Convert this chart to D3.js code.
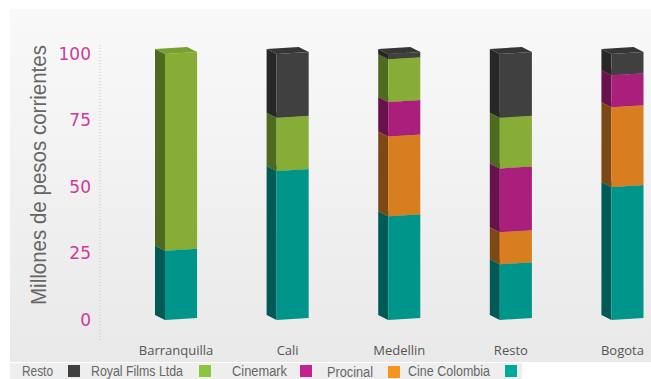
<!DOCTYPE html>
<html><head><meta charset="utf-8">
<script src="https://cdn.jsdelivr.net/npm/d3@7"></script>
<style>html,body{margin:0;padding:0;background:#fff;}svg{display:block;}</style>
</head><body>
<script>
// ---- data ----
const categories = ["Barranquilla", "Cali", "Medellin", "Resto", "Bogota"];
const seriesNames = ["Cine Colombia", "Procinal", "Cinemark", "Royal Films Ltda", "Resto"];
const cineColombia = [26, 56, 39, 21, 50];
const procinal     = [0, 0, 30, 12, 30];
const cinemark     = [0, 0, 13, 24, 12];
const royalFilms   = [74, 20, 16, 19, 0];
const resto        = [0, 24, 2, 24, 8];
const yTicks = [0, 25, 50, 75, 100];
const legendLabels = ["Resto", "Royal Films Ltda", "Cinemark", "Procinal", "Cine Colombia"];

const seriesValues = [cineColombia, procinal, cinemark, royalFilms, resto];
const colors = {
  "Cine Colombia":   {front:"#00958a", side:"#005b54", top:"#00a396"},
  "Procinal":        {front:"#d97e20", side:"#7c4914", top:"#e38c33"},
  "Cinemark":        {front:"#aa1f7b", side:"#69114a", top:"#b62c87"},
  "Royal Films Ltda":{front:"#87ad36", side:"#4e6a1f", top:"#7a9e2f"},
  "Resto":           {front:"#404040", side:"#272727", top:"#363636"}
};

const W = 651, H = 379;
const svg = d3.select("body").append("svg").attr("width", W).attr("height", H);

// background panel
const defs = svg.append("defs");
const g1 = defs.append("linearGradient").attr("id","bg").attr("x1",0).attr("y1",0).attr("x2",0).attr("y2",1);
g1.append("stop").attr("offset","0%").attr("stop-color","#f9f9f9");
g1.append("stop").attr("offset","100%").attr("stop-color","#e9e9e9");
svg.append("rect").attr("x",10).attr("y",9).attr("width",641).attr("height",353).attr("fill","url(#bg)");
svg.append("rect").attr("x",10).attr("y",363).attr("width",512).attr("height",16).attr("fill","#eeeeee");

// scales
const y = d3.scaleLinear().domain([0, 100]).range([318, 52]);
const x = d3.scaleBand().domain(categories).range([155, 643.5]).paddingInner(0.623).paddingOuter(0);

// dotted axis line
svg.append("line").attr("x1",100).attr("x2",100).attr("y1",45).attr("y2",342)
  .attr("stroke","#c4c4c4").attr("stroke-width",1).attr("stroke-dasharray","1,2");

// y axis
const yAxis = svg.append("g").attr("transform","translate(100,2)")
  .call(d3.axisLeft(y).tickValues(yTicks).tickSize(0).tickPadding(9));
yAxis.select(".domain").remove();
yAxis.selectAll("text").attr("fill","#d03a9c").style("font-family","'DejaVu Sans', sans-serif")
  .style("font-size","17px").style("font-weight","normal");

// y title
svg.append("text")
  .attr("transform","translate(46,175) rotate(-90)")
  .attr("text-anchor","middle")
  .attr("fill","#666")
  .style("font-family","'Liberation Sans Narrow', 'Liberation Sans', sans-serif")
  .style("font-size","22px")
  .attr("textLength",260).attr("lengthAdjust","spacingAndGlyphs")
  .text("Millones de pesos corrientes");

// stacked 3D bars
const dx = 10, dy = 5, sk = 2;
const barsG = svg.append("g");
categories.forEach((cat, i) => {
  let cum = 0;
  const xb = x(cat), xf = xb + dx, xr = xb + x.bandwidth();
  seriesNames.forEach((name, s) => {
    const v = seriesValues[s][i];
    if (v <= 0) return;
    const Y0 = y(cum), Y1 = y(cum + v);
    cum += v;
    const c = colors[name];
    const seg = barsG.append("g");
    seg.append("polygon").attr("fill", c.side)
      .attr("points", [[xb, Y1+sk-dy],[xf, Y1+sk],[xf, Y0+sk],[xb, Y0+sk-dy]].map(p=>p.join(",")).join(" "));
    seg.append("polygon").attr("fill", c.front)
      .attr("points", [[xf, Y1+sk],[xr, Y1],[xr, Y0],[xf, Y0+sk]].map(p=>p.join(",")).join(" "));
    seg.append("polygon").attr("fill", c.top)
      .attr("points", [[xb, Y1+sk-dy],[xf, Y1+sk],[xr, Y1],[xr-dx, Y1-dy]].map(p=>p.join(",")).join(" "));
  });
});

// category labels
svg.append("g").selectAll("text").data(categories).join("text")
  .attr("x", d => x(d) + x.bandwidth()/2)
  .attr("y", 355)
  .attr("text-anchor","middle")
  .attr("fill","#555")
  .style("font-family","'Open Sans', sans-serif")
  .style("font-size","13px")
  .text(d => d);

// legend (label followed by swatch, as in reference)
const legendItems = [
  {label: legendLabels[0], tx: 22, tw: 31, sx: 68, color: "#404040", ty: 376, sy: 365},
  {label: legendLabels[1], tx: 91, tw: 92, sx: 199, color: "#8cc63f", ty: 376, sy: 365},
  {label: legendLabels[2], tx: 232, tw: 55, sx: 300, color: "#c4228e", ty: 376, sy: 365},
  {label: legendLabels[3], tx: 327, tw: 46, sx: 388, color: "#f7941d", ty: 377, sy: 366},
  {label: legendLabels[4], tx: 408, tw: 82, sx: 505, color: "#00a99d", ty: 376, sy: 365}
];
const lg = svg.append("g");
legendItems.forEach(it => {
  lg.append("text").attr("x", it.tx).attr("y", it.ty).attr("fill","#666")
    .style("font-family","'Liberation Sans Narrow', 'Liberation Sans', sans-serif")
    .style("font-size","14px")
    .attr("textLength", it.tw).attr("lengthAdjust","spacingAndGlyphs")
    .text(it.label);
  lg.append("rect").attr("x", it.sx).attr("y", it.sy).attr("width",12).attr("height",12).attr("fill", it.color);
});
</script>
</body></html>
